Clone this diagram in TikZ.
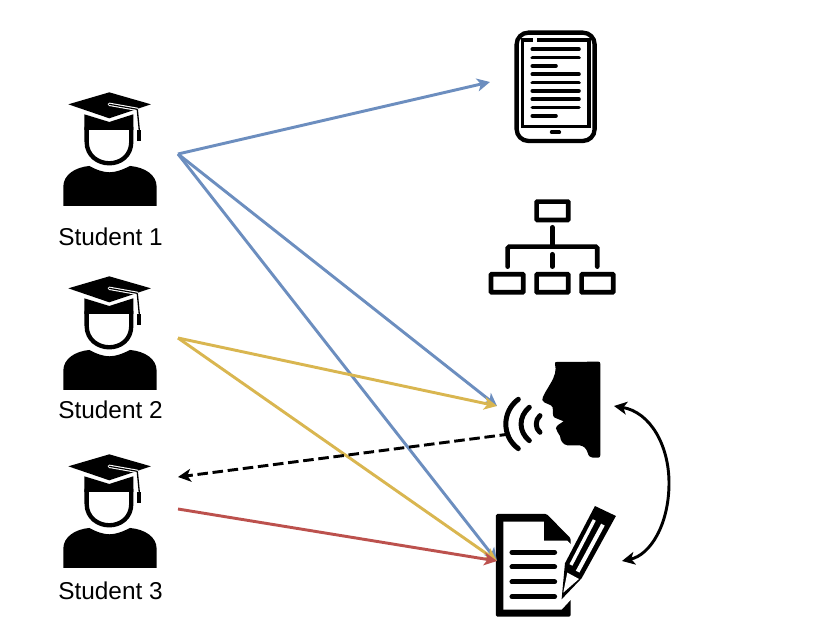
\documentclass[tikz,border=0pt]{standalone}
\usepackage{fontspec}
\setmainfont{Liberation Sans}
\usetikzlibrary{arrows.meta}
\definecolor{linkblue}{HTML}{6C8EBF}
\definecolor{linkyellow}{HTML}{D9B650}
\definecolor{linkred}{HTML}{BC514D}
\tikzstyle{label}=[font=\fontsize{20.8}{25}\selectfont]
\tikzstyle{link}=[line width=2.5pt]
\tikzstyle{icon}=[x=0.01cm, y=-0.01cm]
\tikzstyle{heavy}=[line width=0.15cm, line cap=round, line join=round]
\tikzset{
    student/.pic={
        \begin{scope}[icon]
        \fill (55,73) -- (178,37) -- (303,73) -- (178,115) -- cycle;
        \fill (103,103) -- (178,126) -- (250,103) -- (250,150) -- (103,150) -- cycle;
        \draw[fill=white, line width=0.13cm, line join=round] (110,143) -- (110,185) .. controls (110,228) and (145,250) .. (178,250)
            .. controls (211,250) and (244,228) .. (244,185) -- (244,143) -- cycle;
        \fill (40,378) -- (40,320) .. controls (40,285) and (75,262) .. (118,258)
            .. controls (140,270) and (160,277) .. (178,277)
            .. controls (197,277) and (217,270) .. (240,258)
            .. controls (285,262) and (320,285) .. (320,320) -- (320,378) -- cycle;
        \draw[white, line width=0.1cm, line cap=round] (178,73) -- (262,88);
        \draw[line width=0.035cm, line cap=round] (178,73) -- (262,88);
        \draw[line width=0.04cm] (262,88) -- (268,150);
        \fill (262,150) rectangle (274,183);
        \end{scope}
    }
}
\begin{document}
\begin{tikzpicture}[x=0.03cm, y=-0.03cm, >={Stealth[length=11pt, width=11pt, inset=3pt]}]
    \useasboundingbox (0,0) rectangle (830,625);
    % students
    \pic at (50,80) {student};
    \pic at (50,264) {student};
    \pic at (50,442) {student};
    \node [label] (s1) at (110.5,237) {Student 1};
    \node [label] (s2) at (110.5,410) {Student 2};
    \node [label] (s3) at (110.5,591) {Student 3};
    % tablet
    \begin{scope}[shift={(500,20)}, icon]
        \draw[line width=0.13cm, rounded corners=0.35cm] (50,38) rectangle (284,363);
        \draw[line width=0.11cm] (98,60) -- (68,60) -- (68,320) -- (267,320) -- (267,60) -- (110,60);
        \foreach \yy in {88,113,163,188,213,238,263}
            \draw[line width=0.11cm, line cap=round] (97,\yy) -- (237,\yy);
        \foreach \yy in {138,288}
            \draw[line width=0.11cm, line cap=round] (97,\yy) -- (168,\yy);
        \draw[line width=0.11cm, line cap=round] (155,337) -- (178,337);
    \end{scope}
    % tree
    \begin{scope}[shift={(480,190)}, icon, line width=0.14cm]
        \draw[rounded corners=0.02cm] (170,35) rectangle (265,90);
        \draw[rounded corners=0.02cm] (33,253) rectangle (130,307);
        \draw[rounded corners=0.02cm] (170,253) rectangle (265,307);
        \draw[rounded corners=0.02cm] (305,253) rectangle (400,307);
        \draw[line cap=round] (217,112) -- (217,168);
        \draw[line cap=round, rounded corners=0.05cm] (83,230) -- (83,170) -- (352,170) -- (352,230);
        \draw[line cap=round] (217,193) -- (217,230);
    \end{scope}
    % speaker
    \begin{scope}[shift={(490,350)}, icon]
        \fill (200,36) -- (325,35) .. controls (329,35) and (331,37) .. (331,41) -- (331,316)
            .. controls (331,320) and (329,323) .. (325,323) -- (308,323) .. controls (300,323) and (296,318) .. (293,308)
            .. controls (289,295) and (282,288) .. (268,286) -- (232,286) .. controls (218,284) and (212,272) .. (210,258)
            .. controls (208,250) and (198,245) .. (198,235) .. controls (199,226) and (210,222) .. (221,214)
            -- (194,203) .. controls (186,198) and (190,185) .. (188,172) .. controls (186,162) and (160,162) .. (157,150)
            .. controls (156,140) and (172,118) .. (182,100) .. controls (195,78) and (200,60) .. (195,42)
            .. controls (194,38) and (196,36) .. (200,36) -- cycle;
        \draw[heavy] (150,197) .. controls (135,210) and (135,235) .. (150,247);
        \draw[heavy] (118,172) .. controls (85,200) and (85,245) .. (118,272);
        \draw[heavy] (85,148) .. controls (35,185) and (35,260) .. (85,296);
    \end{scope}
    % notes
    \begin{scope}[shift={(480,500)}, icon]
        \fill[rounded corners=0.04cm] (48,42) -- (200,42) -- (272,115) -- (272,350) -- (48,350) -- cycle;
        \fill[white] (70,65) -- (192,65) -- (192,122) -- (262,122) -- (275,135) -- (290,135) -- (290,290) -- (272,300) -- (245,329) -- (70,329) -- cycle;
        \foreach \yy in {157,201,246,290}
            \draw[heavy] (96,\yy) -- (224,\yy);
        \fill (345,18) -- (408,48) -- (305,235) -- (245,298) -- (255,190) -- cycle;
        \draw[white, line width=0.1cm] (343,60) -- (273,195);
        \draw[white, line width=0.12cm] (369,74) -- (293,215);
        \fill[white] (262,218) -- (297,237) -- (250,278) -- cycle;
    \end{scope}
    % link ends
    \node [coordinate] (s1out) at (178,154) {};
    \node [coordinate] (s2out) at (178,338) {};
    \node [coordinate] (s3out) at (178,509) {};
    \node [coordinate] (s3in) at (178,477) {};
    \node [coordinate] (tablet) at (490,82) {};
    \node [coordinate] (speech) at (497,406) {};
    \node [coordinate] (speechout) at (510,434) {};
    \node [coordinate] (notes) at (497,561) {};
    \node [coordinate] (speechside) at (614,406) {};
    \node [coordinate] (notesside) at (622,561) {};
    \path[->, link, linkblue] (s1out) edge (tablet);
    \path[->, link, linkblue] (s1out) edge (speech);
    \path[->, link, linkblue] (s1out) edge (notes);
    \path[->, link, linkyellow] (s2out) edge (speech);
    \path[->, link, linkyellow] (s2out) edge (notes);
    \path[->, link, linkred] (s3out) edge (notes);
    \path[->, link, black, dash pattern=on 9pt off 4pt] (speechout) edge (s3in);
    \draw[<->, link] (speechside) .. controls (650,412) and (669,445) .. (669,483)
        .. controls (669,525) and (650,555) .. (notesside);
\end{tikzpicture}
\end{document}
